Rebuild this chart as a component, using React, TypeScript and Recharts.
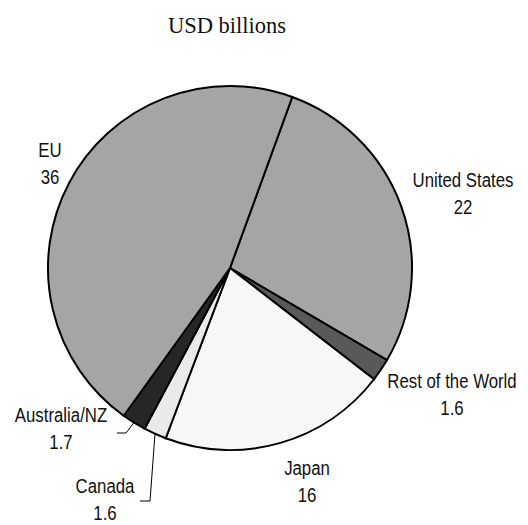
import React from "react";
import { PieChart, Pie, Cell } from "recharts";

// values in USD billions, clockwise from the top-right edge of EU
const regions = ["United States", "Rest of the World", "Japan", "Canada", "Australia/NZ", "EU"];
const amounts = [22, 1.6, 16, 1.6, 1.7, 36];
const amountLabels = ["22", "1.6", "16", "1.6", "1.7", "36"];

const sliceFills = ["#a5a5a5", "#595959", "#f7f7f7", "#eaeaea", "#262626", "#a5a5a5"];

// label text anchors (centre x, first baseline) relative to the pie centre
const labelSpots: Record<string, { dx: number; dy: number }> = {
  "United States": { dx: 233, dy: -81 },
  "Rest of the World": { dx: 222, dy: 120 },
  Japan: { dx: 77, dy: 207 },
  Canada: { dx: -125, dy: 225 },
  "Australia/NZ": { dx: -169, dy: 154 },
  EU: { dx: -180, dy: -111 },
};

// elbow points of the leader lines for the two thin bottom-left slices
const leaders: Record<string, Array<[number, number]>> = {
  Canada: [[-80, 233], [-90, 233]],
  "Australia/NZ": [[-104, 165], [-113, 165]],
};

const chartData = regions.map((name, i) => ({ name, value: amounts[i], label: amountLabels[i] }));

const RAD = Math.PI / 180;
const labelFont = "'Liberation Sans', Arial, sans-serif";

// Arial Narrow look-alike: Liberation Sans squeezed horizontally
const NarrowText = ({ x, y, children }: { x: number; y: number; children: React.ReactNode }) => (
  <text
    transform={`translate(${x},${y}) scale(0.8,1)`}
    x={0}
    y={0}
    textAnchor="middle"
    fontFamily={labelFont}
    fontSize={21}
    fill="#111"
  >
    {children}
  </text>
);

const renderLabel = (props: any) => {
  const { cx, cy, midAngle, outerRadius, index } = props;
  const name = regions[index];
  const spot = labelSpots[name];
  const x = cx + spot.dx;
  const y = cy + spot.dy;
  const bend = leaders[name];
  let line = null;
  if (bend) {
    const sx = cx + outerRadius * Math.cos(-midAngle * RAD);
    const sy = cy + outerRadius * Math.sin(-midAngle * RAD);
    const pts = [[sx, sy], ...bend.map(([bx, by]) => [cx + bx, cy + by])];
    line = (
      <polyline
        points={pts.map((p) => p.join(",")).join(" ")}
        fill="none"
        stroke="#000"
        strokeWidth={1}
      />
    );
  }
  return (
    <g key={`lbl-${index}`}>
      {line}
      <NarrowText x={x} y={y}>{name}</NarrowText>
      <NarrowText x={x} y={y + 27}>{amountLabels[index]}</NarrowText>
    </g>
  );
};

export default function App() {
  return (
    <div style={{ position: "absolute", left: 0, top: 0, width: 528, height: 525, background: "#fff" }}>
      <PieChart width={528} height={525} margin={{ top: 0, right: 0, bottom: 0, left: 0 }}>
        <text
          x={227}
          y={33}
          textAnchor="middle"
          fontFamily="'Liberation Serif', 'Times New Roman', serif"
          fontSize={22.5}
          fill="#111"
        >
          USD billions
        </text>
        <Pie
          data={chartData}
          dataKey="value"
          nameKey="name"
          cx={230}
          cy={268}
          outerRadius={182}
          startAngle={70}
          endAngle={-290}
          stroke="#000"
          strokeWidth={2}
          label={renderLabel}
          labelLine={false}
          isAnimationActive={false}
        >
          {chartData.map((d, i) => (
            <Cell key={d.name} fill={sliceFills[i]} stroke="#000" strokeWidth={2} />
          ))}
        </Pie>
      </PieChart>
    </div>
  );
}
